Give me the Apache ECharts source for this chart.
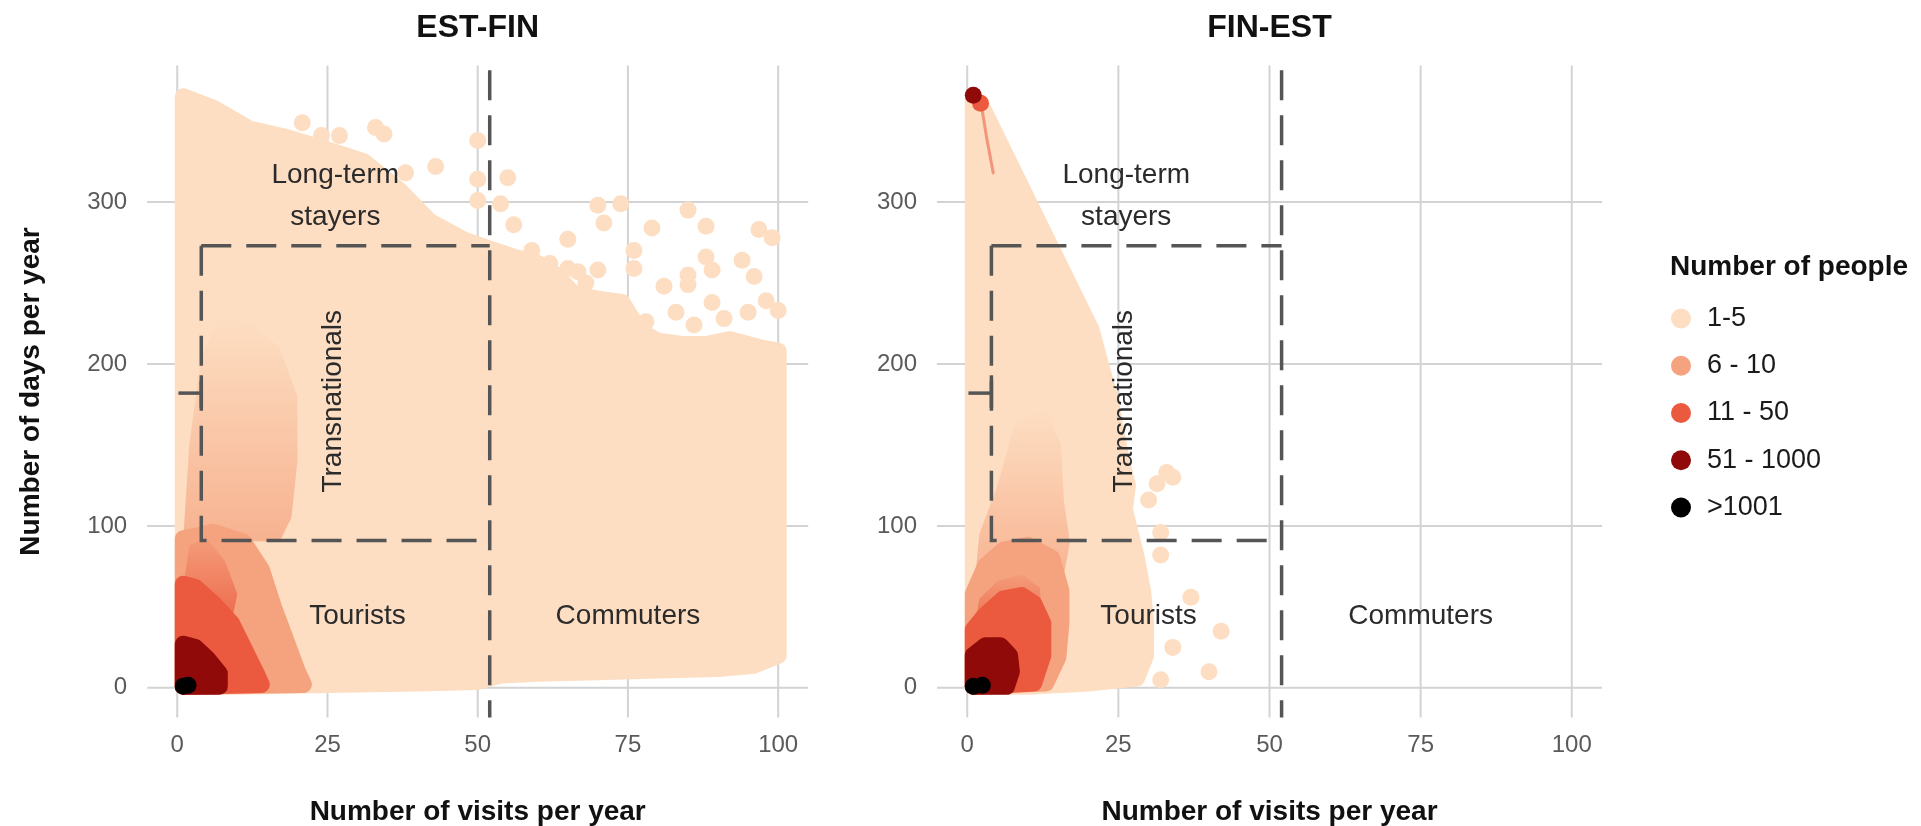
<!DOCTYPE html>
<html><head><meta charset="utf-8">
<script src="https://cdn.jsdelivr.net/npm/echarts@6/dist/echarts.min.js"></script>
<style>html,body{margin:0;padding:0;background:#fff}#c{width:1921px;height:826px}</style>
</head><body><div id="c"></div><script>
// ---------- data ----------
const panels = ['EST-FIN', 'FIN-EST'];
const levels = ['1-5', '6 - 10', '11 - 50', '51 - 1000', '>1001'];
const xTicks = [0, 25, 50, 75, 100];
const yTicks = [0, 100, 200, 300];
const xRange = [-5, 105];
const yRange = [-18.3, 384.3];

// EST-FIN dense regions (centres of overlapping dots)
const estLightArea = [[1,1],[1,365],[6,358],[12,345],[18,340],[26,331],[31,325],[37,307],[42,288],[48,276],[52,271],[56,266],[60,262],[63,255],[66,243],[70,240],[74,238],[77,220],[80,214],[84,212],[88,212],[92,215],[97,210],[100,208],[100,20],[96,14],[90,12],[80,11],[70,10],[60,9],[54,8],[50,4],[40,3],[25,2],[10,1]];
const estSalmonSparse = [[1,92],[2,150],[4,205],[7,228],[12,226],[17,210],[20,180],[20,140],[19,105],[17,90]];
const estSalmonArea = [[1,1],[1,92],[6,96],[11,90],[14,73],[16,50],[18,30],[20,10],[21,2]];
const estRedSparse = [[1,62],[2,88],[5,92],[8,78],[10,58],[9,40],[6,52],[3,60]];
const estRedArea = [[1,1],[1,64],[3,62],[6,52],[9,40],[11,25],[13,10],[14,2]];
const estDarkArea = [[1,1],[1,27],[3,25],[5,18],[7,9],[7,1]];
const estLightPts = [[20.8,349],[24,341],[27,341],[33,346],[34.4,342],[38,318],[43,322],[50,338],[50,314],[55,315],[50,301],[53.8,299],[56,286],[59,270],[62,262],[65,277],[68,250],[70,298],[73.8,299],[71,287],[79,284],[85,295],[88,285],[96.8,283],[99,278],[76,270],[76,259],[88,266],[89,258],[94,264],[96,254],[85,255],[85,249],[81,248],[70,258],[66.7,257],[65,259],[89,238],[98,239],[100,233],[83,232],[78,226],[86,224],[91,228],[95,232]];
const estBlackPts = [[1,1],[1.8,1.6]];

// FIN-EST dense regions
const finLightArea = [[1,1],[1,362],[2.5,358],[20.5,221],[22,200],[23.5,180],[24.5,160],[25.5,140],[26.5,125],[26,110],[27,95],[28,80],[29,60],[29.5,40],[29.5,20],[28,6],[20,3],[10,1]];
const finSalmonSparse = [[1,55],[2,95],[5,125],[8,165],[13,172],[15.5,150],[16,115],[17,90],[15.5,60]];
const finSalmonArea = [[1,1],[1,58],[3,75],[6,85],[10,88],[14,80],[15.5,60],[15.5,40],[15,19],[13,3]];
const finRedSparse = [[1,34],[2,55],[5,66],[9,70],[12,62],[12.5,40],[9,57],[6,55],[3,45]];
const finRedArea = [[1,1],[1,36],[3,45],[6,55],[9,57],[11,52],[12.5,40],[12.5,20],[11,3]];
const finDarkArea = [[1,1],[1,20],[3,26],[5.5,26],[7,20],[7.3,10],[6.5,1]];
const finStreak = [[2.5,356],[3.2,340],[4.3,318]];
const finLightPts = [[33,133],[34,130],[31.4,126],[30,116],[32,96],[32,82],[37,56],[42,35],[34,25],[40,10],[32,5]];
const finRedPts = [[2.2,361]];
const finDarkPts = [[1,366]];
const finBlackPts = [[1,1],[2.5,1.6]];

// thresholds / annotations
const dashX = 52;
const boxRect = [4, 91, 52, 273];       // xmin, ymin, xmax, ymax
const tMark = [0.2, 4, 182, 173, 193];  // x0, x1, y, yLow, yHigh
const annoLabels = ['Long-term\nstayers', 'Transnationals', 'Tourists', 'Commuters'];
const annoX = [26.3, 26, 30, 75];
const annoY = [303.7, 177, 44, 44];
const annoRot = [0, 90, 0, 0];

// ---------- styling ----------
const FONT = '"Liberation Sans", Arial, Helvetica, sans-serif';
const colors = ['#FDDEC2', '#F5A37F', '#EB5A3E', '#900A0A', '#000000'];
const DOT = 17;
const gridsPx = [{left: 147.2, width: 661}, {left: 937, width: 665}];
const gridTop = 65.5, gridH = 652;

function rgba(hex, a) {
  const n = parseInt(hex.slice(1), 16);
  return 'rgba(' + (n >> 16 & 255) + ',' + (n >> 8 & 255) + ',' + (n & 255) + ',' + a + ')';
}

const panelData = [
  {areas: [
     [{pts: estLightArea}],
     [{pts: estSalmonSparse, grad: [0.75, 0.0]}, {pts: estSalmonArea}],
     [{pts: estRedSparse, grad: [0.8, 0.1]}, {pts: estRedArea}],
     [{pts: estDarkArea}],
     []],
   lines: [[], [], [], [], []],
   pts: [estLightPts, [], [], [], estBlackPts]},
  {areas: [
     [{pts: finLightArea}],
     [{pts: finSalmonSparse, grad: [0.8, 0.0]}, {pts: finSalmonArea}],
     [{pts: finRedSparse, grad: [0.8, 0.1]}, {pts: finRedArea}],
     [{pts: finDarkArea}],
     []],
   lines: [[], [finStreak], [], [], []],
   pts: [finLightPts, [], finRedPts, finDarkPts, finBlackPts]}
];

const chart = echarts.init(document.getElementById('c'));
const grid = [], xAxis = [], yAxis = [], series = [];

panels.forEach((name, p) => {
  grid.push({left: gridsPx[p].left, width: gridsPx[p].width, top: gridTop, height: gridH, containLabel: false});
  xAxis.push({type: 'value', gridIndex: p, min: xRange[0], max: xRange[1],
    axisLine: {show: false}, axisTick: {show: false}, splitLine: {show: false},
    axisLabel: {customValues: xTicks, fontSize: 24, color: '#5a5a5a', fontFamily: FONT, margin: 16}});
  yAxis.push({type: 'value', gridIndex: p, min: yRange[0], max: yRange[1],
    axisLine: {show: false}, axisTick: {show: false}, splitLine: {show: false},
    axisLabel: {customValues: yTicks, fontSize: 24, color: '#5a5a5a', fontFamily: FONT, margin: 20}});

  // grid lines
  series.push({type: 'custom', xAxisIndex: p, yAxisIndex: p, z: 1, silent: true, data: [[0, 0]],
    renderItem: (params, api) => {
      const ch = [];
      xTicks.forEach(t => {
        const a = api.coord([t, yRange[0]]), b = api.coord([t, yRange[1]]);
        ch.push({type: 'line', shape: {x1: a[0], y1: a[1], x2: b[0], y2: b[1]}, style: {stroke: '#D3D3D3', lineWidth: 2}});
      });
      yTicks.forEach(t => {
        const a = api.coord([xRange[0], t]), b = api.coord([xRange[1], t]);
        ch.push({type: 'line', shape: {x1: a[0], y1: a[1], x2: b[0], y2: b[1]}, style: {stroke: '#D3D3D3', lineWidth: 2}});
      });
      return {type: 'group', children: ch};
    }});

  const pd = panelData[p];
  levels.forEach((lv, li) => {
    series.push({type: 'scatter', name: lv, xAxisIndex: p, yAxisIndex: p, z: 2 + li, silent: true,
      symbol: 'circle', symbolSize: DOT, itemStyle: {color: colors[li], opacity: 1},
      data: pd.pts[li]});
    series.push({type: 'custom', name: lv, xAxisIndex: p, yAxisIndex: p, z: 2 + li, silent: true,
      itemStyle: {color: colors[li]}, data: [[0, 0]],
      renderItem: (params, api) => {
        const ch = pd.areas[li].map(a => ({type: 'polygon',
          shape: {points: a.pts.map(v => api.coord(v))},
          style: a.grad
            ? {fill: new echarts.graphic.LinearGradient(0, 1, 0, 0, [
                {offset: 0, color: rgba(colors[li], a.grad[0])},
                {offset: 1, color: rgba(colors[li], a.grad[1])}])}
            : {fill: colors[li], stroke: colors[li], lineWidth: DOT, lineJoin: 'round'}}));
        pd.lines[li].forEach(l => ch.push({type: 'polyline', shape: {points: l.map(v => api.coord(v))},
          style: {stroke: colors[2], lineWidth: 3, fill: null, lineCap: 'round', opacity: 0.55}}));
        return {type: 'group', children: ch};
      }});
  });

  // dashed thresholds
  series.push({type: 'custom', xAxisIndex: p, yAxisIndex: p, z: 8, silent: true, data: [[0, 0]],
    renderItem: (params, api) => {
      const ds = {stroke: '#555', lineWidth: 3.5, lineDash: [30, 15], fill: null};
      const ss = {stroke: '#555', lineWidth: 3.5, fill: null};
      const v1 = api.coord([dashX, yRange[1] - 3]), v2 = api.coord([dashX, yRange[0]]);
      const c1 = api.coord([boxRect[2], boxRect[3]]), c2 = api.coord([boxRect[0], boxRect[3]]),
            c3 = api.coord([boxRect[0], boxRect[1]]), c4 = api.coord([boxRect[2], boxRect[1]]);
      const h1 = api.coord([tMark[0], tMark[2]]), h2 = api.coord([tMark[1], tMark[2]]);
      const t1 = api.coord([tMark[1], tMark[3]]), t2 = api.coord([tMark[1], tMark[4]]);
      return {type: 'group', children: [
        {type: 'line', shape: {x1: v1[0], y1: v1[1], x2: v2[0], y2: v2[1]}, style: ds},
        {type: 'polyline', shape: {points: [c2, c1]}, style: ds},
        {type: 'polyline', shape: {points: [c2, c3, c4]}, style: ds},
        {type: 'line', shape: {x1: h1[0], y1: h1[1], x2: h2[0], y2: h2[1]}, style: ss},
        {type: 'line', shape: {x1: t1[0], y1: t1[1], x2: t2[0], y2: t2[1]}, style: ss}
      ]};
    }});

  // annotations
  series.push({type: 'custom', xAxisIndex: p, yAxisIndex: p, z: 9, silent: true, data: [[0, 0]],
    renderItem: (params, api) => ({type: 'group', children: annoLabels.map((t, i) => {
      const c = api.coord([annoX[i], annoY[i]]);
      return {type: 'text', x: c[0], y: c[1], rotation: annoRot[i] * Math.PI / 180,
        style: {text: t, fill: '#2b2b2b', fontSize: 28, fontFamily: FONT, lineHeight: 42,
          align: 'center', verticalAlign: 'middle'}};
    })})});
});

const titleFont = 'bold 32px ' + FONT;
const axFont = 'bold 28px ' + FONT;
const graphic = [];
panels.forEach((name, p) => {
  const cx = gridsPx[p].left + gridsPx[p].width / 2;
  graphic.push({type: 'text', x: cx, y: 28, style: {text: name, font: titleFont, fill: '#111', align: 'center', verticalAlign: 'middle'}});
  graphic.push({type: 'text', x: cx, y: 812, style: {text: 'Number of visits per year', font: axFont, fill: '#111', align: 'center', verticalAlign: 'middle'}});
});
graphic.push({type: 'text', x: 31, y: gridTop + gridH / 2, rotation: Math.PI / 2,
  style: {text: 'Number of days per year', font: axFont, fill: '#111', align: 'center', verticalAlign: 'middle'}});
graphic.push({type: 'text', x: 1670, y: 267,
  style: {text: 'Number of people', font: axFont, fill: '#111', align: 'left', verticalAlign: 'middle'}});

chart.setOption({
  animation: false,
  backgroundColor: '#fff',
  grid, xAxis, yAxis, series, graphic,
  legend: {orient: 'vertical', left: 1671, top: 305, padding: 0, itemWidth: 20, itemHeight: 20, itemGap: 20.25,
    icon: 'circle', data: levels, selectedMode: false,
    textStyle: {fontSize: 27, color: '#1a1a1a', fontFamily: FONT, lineHeight: 27, padding: [0, 0, 0, 11]}}
});
</script></body></html>
